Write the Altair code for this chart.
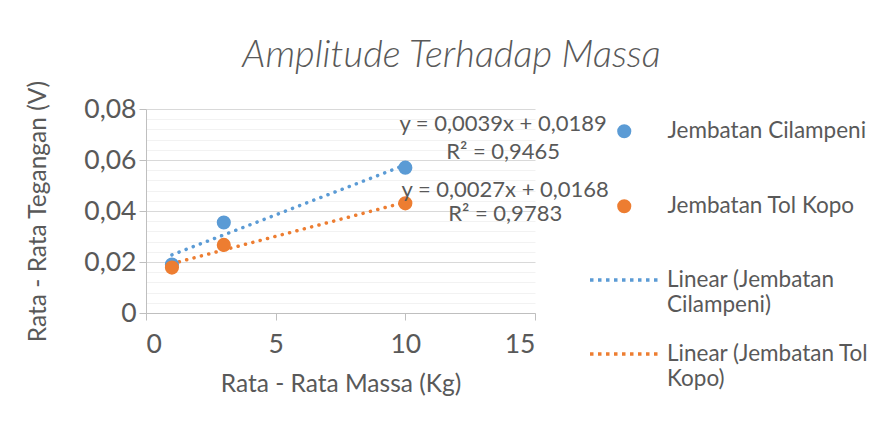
import altair as alt
import pandas as pd

# ---- data ----
series_names = ["Jembatan Cilampeni", "Jembatan Tol Kopo"]
mass = [1, 3, 10]
cilampeni = [0.019, 0.0355, 0.057]
tol_kopo = [0.0178, 0.0267, 0.043]
trend_names = ["Linear (Jembatan Cilampeni)", "Linear (Jembatan Tol Kopo)"]
colors = ["#5B9BD5", "#ED7D31"]

equations = ["y = 0,0039x + 0,0189", "R² = 0,9465", "y = 0,0027x + 0,0168", "R² = 0,9783"]
eq_x = [13.77, 13.77, 13.85, 13.85]
eq_y = [0.0741, 0.0631, 0.0482, 0.0388]

x_ticks = [0, 5, 10, 15]
y_ticks = [0, 0.02, 0.04, 0.06, 0.08]
y_minor = [0.004, 0.008, 0.012, 0.016, 0.024, 0.028, 0.032, 0.036,
           0.044, 0.048, 0.052, 0.056, 0.064, 0.068, 0.072, 0.076]

points = pd.DataFrame({
    "series": [series_names[0]] * 3 + [series_names[1]] * 3,
    "mass": mass + mass,
    "volt": cilampeni + tol_kopo,
})
eqs = pd.DataFrame({"text": equations, "mx": eq_x, "vy": eq_y})

FONT = "Lato"
GREY = "#595959"
FS = 22
AXFS = 26.5
TFS = 24.5

x_scale = alt.Scale(domain=[0, 15], nice=False, zero=True)
y_scale = alt.Scale(domain=[0, 0.08], nice=False, zero=True)

x_axis = alt.Axis(
    values=x_ticks, grid=False, title="Rata - Rata Massa (Kg)",
    tickSize=7, tickColor="#BFBFBF", domainColor="#BFBFBF",
    labelFont=FONT, labelFontSize=AXFS, labelColor=GREY, labelPadding=11,
    titleFont=FONT, titleFontSize=TFS, titleFontWeight="normal", titleColor=GREY,
    titleX=194.5, titleY=71, titleBaseline="middle", titleAlign="center",
)
y_axis = alt.Axis(
    values=y_ticks, grid=True, gridColor="#D9D9D9", orient="left",
    title="Rata - Rata Tegangan (V)",
    tickSize=7, tickColor="#BFBFBF", domainColor="#BFBFBF",
    labelFont=FONT, labelFontSize=AXFS, labelColor=GREY, labelPadding=3,
    labelExpr="datum.value == 0 ? '0' : replace(format(datum.value, '.2f'), '.', ',')",
    titleFont=FONT, titleFontSize=TFS, titleFontWeight="normal", titleColor=GREY,
    titleX=-108, titleY=102, titleAngle=-90, titleBaseline="middle", titleAlign="center",
)
y_minor_axis = alt.Axis(
    values=y_minor, grid=True, gridColor="#F2F2F2", orient="left",
    labels=False, ticks=False, domain=False, title=None,
)

pts = alt.Chart(points).mark_circle(size=200, opacity=1).encode(
    x=alt.X("mass:Q", scale=x_scale, axis=x_axis),
    y=alt.Y("volt:Q", scale=y_scale, axis=y_axis),
    color=alt.Color(
        "series:N",
        scale=alt.Scale(domain=series_names, range=colors),
        legend=alt.Legend(
            title=None, orient="none", legendX=467, legendY=11,
            symbolType="circle", symbolSize=200, symbolStrokeWidth=0,
            labelFont=FONT, labelFontSize=22.5, labelColor=GREY,
            labelOffset=32, rowPadding=52, labelLimit=400, padding=0,
        ),
    ),
)

trend = alt.Chart(points).transform_regression(
    "mass", "volt", groupby=["series"], extent=[1, 10]
).transform_calculate(
    trend="'Linear (' + datum.series + ')'"
).mark_line(strokeDash=[0.1, 7.5], strokeCap="round", strokeWidth=3.5).encode(
    x=alt.X("mass:Q", scale=x_scale, axis=x_axis),
    y=alt.Y("volt:Q", scale=y_scale, axis=y_minor_axis),
    color=alt.Color(
        "trend:N",
        scale=alt.Scale(domain=trend_names, range=colors),
        legend=alt.Legend(
            title=None, orient="none", legendX=442, legendY=135,
            symbolType="stroke", symbolSize=4624, symbolStrokeWidth=3.5,
            symbolDash=[3.5, 4.5],
            labelFont=FONT, labelFontSize=22.5, labelColor=GREY,
            labelOffset=7, rowPadding=2, labelLimit=400, padding=0,
            labelExpr="[substring(datum.label, 0, lastindexof(datum.label, ' ')), substring(datum.label, lastindexof(datum.label, ' ') + 1)]",
        ),
    ),
)

labels = alt.Chart(eqs).mark_text(
    font=FONT, fontSize=FS, color=GREY, align="center", baseline="middle"
).encode(
    x=alt.X("mx:Q", scale=x_scale, axis=x_axis),
    y=alt.Y("vy:Q", scale=y_scale, axis=None),
    text="text:N",
)

chart = alt.layer(trend, pts, labels).resolve_scale(
    color="independent"
).resolve_axis(
    y="independent"
).properties(
    width=389, height=204,
    autosize=alt.AutoSizeParams(type="none"),
    padding={"left": 138, "top": 101, "right": 339, "bottom": 103},
    background="white",
    title=alt.TitleParams(
        "Amplitude Terhadap Massa", font=FONT, fontSize=38, fontStyle="italic",
        fontWeight=300, color=GREY, anchor="middle", frame="group",
        dx=111, dy=57, offset=32, baseline="alphabetic",
    ),
).configure_view(stroke=None)

chart.save("out.html", embed_options={"renderer": "svg", "actions": False})
